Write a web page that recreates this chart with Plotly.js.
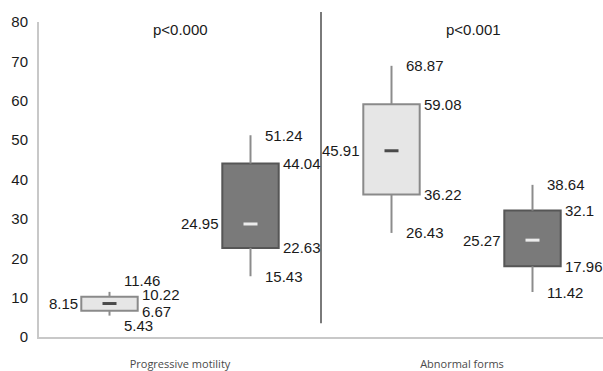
<!DOCTYPE html>
<html>
<head>
<meta charset="utf-8">
<script src="https://cdn.plot.ly/plotly-3.0.1.min.js"></script>
<style>html,body{margin:0;padding:0;background:#fff;}#chart{width:603px;height:371px;}</style>
</head>
<body>
<div id="chart"></div>
<script>
// ---- data ----
const categories = ['Progressive motility', 'Abnormal forms'];
const pValues = ['p<0.000', 'p<0.001'];

// light (first) series
const lightMin    = [5.43, 26.43];
const lightQ1     = [6.67, 36.22];
const lightMedian = [8.15, 45.91];
const lightQ3     = [10.22, 59.08];
const lightMax    = [11.46, 68.87];
const lightMark   = [8.5, 47.3];   // position of the centre dash as drawn

// dark (second) series
const darkMin    = [15.43, 11.42];
const darkQ1     = [22.63, 17.96];
const darkMedian = [24.95, 25.27];
const darkQ3     = [44.04, 32.1];
const darkMax    = [51.24, 38.64];
const darkMark   = [28.7, 24.6];

const yTicks = [0, 10, 20, 30, 40, 50, 60, 70, 80];

// ---- build ----
const OFFSET = 0.25, BOXW = 0.2;
const LABEL_FONT = {family: 'Liberation Sans, Arial, sans-serif', size: 15, color: '#1a1a1a'};

const series = [
  {min: lightMin, q1: lightQ1, med: lightMedian, q3: lightQ3, max: lightMax, mark: lightMark,
   off: -OFFSET, fill: '#e6e6e6', edge: '#8a8a8a', dash: '#4a4a4a'},
  {min: darkMin, q1: darkQ1, med: darkMedian, q3: darkQ3, max: darkMax, mark: darkMark,
   off: OFFSET, fill: '#7a7a7a', edge: '#565656', dash: '#ececec'}
];

const traces = [];
const annotations = [];

series.forEach(s => {
  const xs = categories.map((c, i) => i + s.off);
  // whiskers
  const wx = [], wy = [];
  xs.forEach((x, i) => {
    wx.push(x, x, null, x, x, null);
    wy.push(s.q3[i], s.max[i], null, s.q1[i], s.min[i], null);
  });
  traces.push({type: 'scatter', mode: 'lines', x: wx, y: wy,
    line: {color: '#8c8c8c', width: 2}, hoverinfo: 'skip', showlegend: false});
  // boxes
  traces.push({type: 'bar', x: xs, base: s.q1, y: s.q3.map((v, i) => v - s.q1[i]),
    width: BOXW, marker: {color: s.fill, line: {color: s.edge, width: 2}},
    hoverinfo: 'skip', showlegend: false});
  // centre dash
  traces.push({type: 'scatter', mode: 'markers', x: xs, y: s.mark,
    marker: {symbol: 'line-ew', size: 10, line: {color: s.dash, width: 3}},
    hoverinfo: 'skip', showlegend: false});

  xs.forEach((x, i) => {
    const nearUp = (s.max[i] - s.q3[i]) < 4;
    const nearDn = (s.q1[i] - s.min[i]) < 4;
    const thin = (s.q3[i] - s.q1[i]) < 5;
    const add = (text, y, xanchor, xshift, yshift) => annotations.push({
      x: x, y: y, xref: 'x', yref: 'y', text: text, showarrow: false,
      xanchor: xanchor, yanchor: 'middle', xshift: xshift, yshift: yshift, font: LABEL_FONT
    });
    add(String(s.max[i]), s.max[i], 'left', 12, nearUp ? 11 : 0);
    add(String(s.q3[i]), s.q3[i], 'left', 30, thin ? 2 : 0);
    add(String(s.q1[i]), s.q1[i], 'left', 30, thin ? -1 : 0);
    add(String(s.min[i]), s.min[i], 'left', 12, nearDn ? -10 : 0);
    add(String(s.med[i]), s.mark[i], 'right', -30, 0);
  });
});

pValues.forEach((p, i) => annotations.push({
  x: i, y: 78, xref: 'x', yref: 'y', text: p, showarrow: false,
  xanchor: 'center', yanchor: 'middle', xshift: i === 0 ? 0 : 11, font: LABEL_FONT
}));

const layout = {
  width: 603, height: 371,
  margin: {l: 39, r: 0, t: 22, b: 34, pad: 0},
  paper_bgcolor: '#ffffff', plot_bgcolor: '#ffffff',
  showlegend: false, barmode: 'overlay',
  xaxis: {
    range: [-0.5, 1.5], tickvals: categories.map((c, i) => i), ticktext: categories,
    showgrid: false, zeroline: false, showline: true, linecolor: '#c8c8c8', linewidth: 2,
    ticks: '', ticklabelstandoff: 16,
    tickfont: {family: 'Open Sans, Noto Sans, sans-serif', size: 11, color: '#4a4a4a'}
  },
  yaxis: {
    range: [0, 80], tickvals: yTicks, ticktext: yTicks.map(String),
    showgrid: false, zeroline: false, showline: true, linecolor: '#c8c8c8', linewidth: 2,
    ticks: '', ticklabelstandoff: 6,
    tickfont: {family: 'Liberation Sans, Arial, sans-serif', size: 15, color: '#1a1a1a'}
  },
  shapes: [{type: 'line', xref: 'x', yref: 'paper', x0: 0.5, x1: 0.5, y0: 0.044, y1: 1.032,
    line: {color: '#7a7a7a', width: 2}}],
  annotations: annotations
};

Plotly.newPlot('chart', traces, layout, {displayModeBar: false, staticPlot: true});
</script>
</body>
</html>
